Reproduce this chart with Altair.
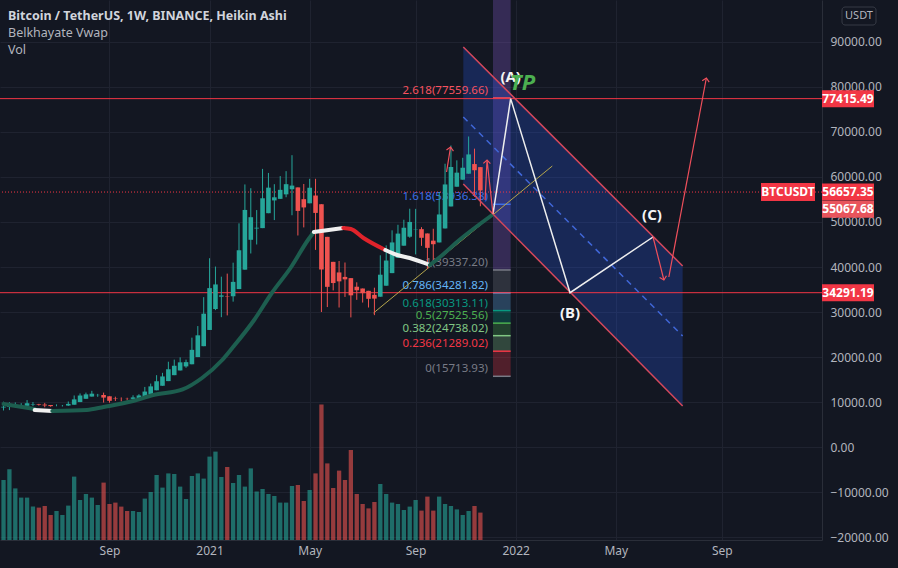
import altair as alt
import numpy as np
import pandas as pd

# ---------------- data ----------------
CANDLE_START = "2020-05-04"   # weekly Heikin Ashi candles, BINANCE BTCUSDT
ha_open = [8800, 8875, 9010, 9150, 9160, 9442, 9495, 9424, 9329, 9206,
           9207, 9211, 9396, 9988, 10714, 11207, 11529, 11553, 11267, 10763,
           10715, 10710, 10695, 10857, 11155, 11738, 12604, 13607, 14644, 15962,
           17007, 17910, 18385, 19986, 22402, 26010, 30659, 33392, 33545, 33498,
           35095, 39408, 46044, 48556, 48640, 51957, 54796, 55143, 56146, 57277,
           57685, 55074, 54156, 55883, 53950, 46698, 41144, 38790, 37799, 37526,
           35615, 35220, 34705, 33817, 33396, 35842, 38640, 42049, 44736, 46731,
           48372, 48411, 47451, 45853, 45458, 48567, 53456, 57840, 59403, 60732,
           62875, 62190]
ha_close = [8950, 9145, 9290, 9170, 9723, 9548, 9353, 9233, 9083, 9208,
            9215, 9580, 10580, 11440, 11700, 11850, 11578, 10981, 10258, 10668,
            10705, 10680, 11018, 11453, 12320, 13470, 14610, 15680, 17280, 18053,
            18813, 18860, 21588, 24818, 29618, 35308, 36125, 33698, 33450, 36693,
            43720, 52680, 51068, 48725, 55273, 57635, 55490, 57148, 58408, 58093,
            52463, 53238, 57610, 52018, 39445, 35590, 36435, 36808, 37253, 33703,
            34825, 34190, 32928, 32975, 38288, 41438, 45458, 47423, 48725, 50013,
            48450, 46490, 44255, 45063, 51675, 58345, 62223, 60965, 62060, 65018,
            61505, 57019]
ha_high = [10067, 9950, 9900, 9740, 10430, 9990, 9590, 9800, 9329, 9470,
           9340, 10110, 11450, 11900, 12090, 12480, 11800, 12090, 11267, 11180,
           11020, 10950, 11490, 11730, 13350, 14100, 15960, 16480, 18950, 19420,
           19920, 19420, 24300, 26870, 33300, 41950, 40100, 37850, 38530, 40960,
           49700, 58350, 57500, 52650, 61800, 60900, 58400, 60200, 61300, 64850,
           57685, 58450, 59600, 59600, 53950, 46698, 41144, 41330, 41000, 37526,
           36600, 35220, 34705, 35400, 42600, 44800, 48150, 49380, 50500, 52950,
           52920, 48850, 47451, 48500, 56600, 62950, 67000, 63700, 64270, 69000,
           66300, 62190]
ha_low = [8117, 8200, 8800, 8630, 9160, 9120, 9200, 8830, 8940, 9050,
          9000, 9120, 9396, 9988, 10714, 11207, 11150, 9875, 9850, 10230,
          10140, 10370, 10530, 10857, 11155, 11738, 12604, 13607, 14644, 15962,
          17007, 17600, 18385, 19986, 22402, 26010, 30420, 28850, 29240, 32300,
          35095, 39408, 43000, 45000, 48640, 51957, 50430, 55143, 55500, 51500,
          47000, 48800, 54156, 43800, 30000, 31100, 34800, 31000, 33350, 28800,
          32700, 32100, 31000, 29300, 33396, 35842, 38640, 42049, 44736, 46500,
          42800, 44700, 39600, 40750, 45458, 48567, 53456, 57840, 59400, 60732,
          55600, 53500]
volume_k = [300, 354, 258, 212, 212, 167, 162, 170, 125, 145,
            125, 172, 317, 200, 230, 212, 175, 287, 180, 187,
            167, 145, 145, 140, 207, 240, 325, 262, 333, 330,
            267, 205, 320, 333, 307, 417, 442, 315, 365, 285,
            325, 267, 358, 242, 255, 230, 220, 187, 187, 270,
            275, 195, 250, 333, 678, 383, 260, 347, 300, 450,
            230, 180, 158, 190, 280, 230, 187, 180, 150, 167,
            200, 147, 217, 147, 217, 180, 170, 153, 125, 145,
            170, 137]

# Belkhayate VWAP path (segment id, date, price)
vwap_seg = [0, 0,
            1, 1,
            2, 2, 2, 2, 2, 2, 2, 2, 2, 2, 2, 2, 2, 2,
            3, 3,
            4, 4, 4, 4,
            5, 5, 5, 5,
            6, 6, 6, 6]
vwap_date = ["2020-05-04", "2020-06-10",
             "2020-06-10", "2020-07-01",
             "2020-07-01", "2020-08-11", "2020-08-31", "2020-10-05", "2020-10-29", "2020-12-03",
             "2020-12-26", "2021-01-19", "2021-01-31", "2021-02-26", "2021-03-19", "2021-04-11",
             "2021-05-01", "2021-05-08",
             "2021-05-08", "2021-06-12",
             "2021-06-12", "2021-06-21", "2021-07-06", "2021-08-01",
             "2021-08-01", "2021-08-15", "2021-08-30", "2021-09-23",
             "2021-09-23", "2021-10-05", "2021-10-28", "2021-12-06"]
vwap_price = [9556, 8444,
              8222, 8000,
              8000, 8222, 8889, 10222, 11556, 12800, 15333, 19333, 22000, 28222, 34222, 40000,
              46000, 47778,
              47778, 48667,
              48667, 48444, 46444, 43778,
              43778, 42667, 42000, 40444,
              40444, 42222, 46000, 51556]
vwap_seg_kind = ["up", "flat", "up", "flat", "down", "flat", "up"]

# Fibonacci retracement
fib_ratio = ["2.618", "1.618", "1", "0.786", "0.618", "0.5", "0.382", "0.236", "0"]
fib_price = [77559.66, 53936.38, 39337.20, 34281.82, 30313.11, 27525.56, 24738.02, 21289.02, 15713.93]
fib_start, fib_end, fib_text_at = "2021-12-07", "2021-12-28", "2021-12-01"

# Horizontal levels / price scale labels
levels = [77415.49, 34291.19]
last_price = 56657.35
other_price = 55067.68

# Descending channel
ch_date = ["2021-11-01T16:00", "2022-07-20T12:00"]
ch_upper = [88889, 40222]
ch_mid = [73333, 24667]
ch_lower = [58444, 9111]

# ABC wave
abc_date = ["2021-12-07", "2021-12-28", "2022-03-08T14:00", "2022-06-15T07:00"]
abc_price = [51778, 77415, 34291, 46667]
abc_label = ["(A)", "(B)", "(C)"]
abc_label_date = ["2021-12-28", "2022-03-08T14:00", "2022-06-14T02:00"]
abc_label_price = [82222, 29778, 51556]
tp_date, tp_price = "2022-01-11T05:00", 80889

# Trend line
trend_date = ["2021-07-17T22:00", "2022-02-15T12:00"]
trend_price = [29778, 62444]

# Red arrows
arrow_id = [0, 0, 1, 1, 1, 2, 2, 3, 3]
arrow_date = ["2021-10-12T19:00", "2021-10-17T12:00",
              "2021-11-27T14:00", "2021-11-29T22:00", "2021-12-07",
              "2022-06-15T07:00", "2022-06-28T05:00",
              "2022-07-04T02:00", "2022-08-17T17:00"]
arrow_price = [61111, 66667,
               54889, 63778, 51778,
               46667, 37111,
               37778, 82000]
head_date = ["2021-10-17T12:00", "2021-11-29T22:00", "2022-06-28T05:00", "2022-08-17T17:00"]
head_price = [66667, 63778, 37111, 82000]
head_angle = [9, 3, 166, 11]

x_tick_dates = [(2020, 9, 7), (2021, 1, 4), (2021, 5, 3), (2021, 9, 6),
                (2022, 1, 3), (2022, 5, 2), (2022, 9, 5)]
price_ticks = list(range(-20000, 90001, 10000))

# ---------------- styles ----------------
BG = "#131722"
FONT = "Noto Sans"
TXT = "#b2b5be"
GRID = "#1f2330"
UP_C, DOWN_C = "#26a69a", "#ef5350"
RED = "#f23645"
fib_text_colors = ["#f7525f", "#3d6fe8", "#787b86", "#64b5f6", "#089981", "#4caf50", "#81c784", "#f23645", "#787b86"]
Y_MIN, Y_MAX = -20666.67, 99333.33


def utc(s):
    if s.endswith("Z"):
        return s
    return s + "Z" if "T" in s else s + "T00:00:00Z"


dates = pd.date_range(CANDLE_START, periods=len(ha_open), freq="7D").strftime("%Y-%m-%dT%H:%M:%SZ")
candles = pd.DataFrame({"date": dates, "open": ha_open, "close": ha_close,
                        "high": ha_high, "low": ha_low, "volume": volume_k})
candles["dir"] = np.where(candles["close"] >= candles["open"], "up", "down")

vwap = pd.DataFrame({"seg": vwap_seg, "date": [utc(d) for d in vwap_date], "price": vwap_price})
vwap["kind"] = [vwap_seg_kind[s] for s in vwap_seg]

fib = pd.DataFrame({"ratio": fib_ratio, "price": fib_price})
fib["label"] = [f"{r}({p:.2f})" for r, p in zip(fib_ratio, fib_price)]
fib["x0"], fib["x1"], fib["xt"] = utc(fib_start), utc(fib_end), utc(fib_text_at)
boxes = pd.DataFrame({"ratio": fib_ratio[2:-1], "top": fib_price[2:-1], "bottom": fib_price[3:]})
boxes["x0"], boxes["x1"] = utc(fib_start), utc(fib_end)
band = pd.DataFrame({"x0": [utc(fib_start)], "x1": [utc(fib_end)], "top": [Y_MAX], "bottom": [fib_price[2]]})

channel = pd.DataFrame({"date": [utc(d) for d in ch_date], "upper": ch_upper, "mid": ch_mid, "lower": ch_lower})
abc = pd.DataFrame({"date": [utc(d) for d in abc_date], "price": abc_price})
abc_lab = pd.DataFrame({"date": [utc(d) for d in abc_label_date], "price": abc_label_price, "t": abc_label})
tp = pd.DataFrame({"date": [utc(tp_date)], "price": [tp_price], "t": ["TP"]})
trend = pd.DataFrame({"date": [utc(d) for d in trend_date], "price": trend_price})
arrows = pd.DataFrame({"id": arrow_id, "date": [utc(d) for d in arrow_date], "price": arrow_price})
arrows["order"] = range(len(arrows))
heads = pd.DataFrame({"date": [utc(d) for d in head_date], "price": head_price, "angle": head_angle})
lv = pd.DataFrame({"price": levels})
axis_lab = pd.DataFrame({"price": levels + [last_price], "t": [f"{p:.2f}" for p in levels + [last_price]]})
other_lab = pd.DataFrame({"price": [other_price], "t": [f"{other_price:.2f}"]})
last_df = pd.DataFrame({"price": [last_price], "t": ["BTCUSDT"]})

XS = alt.Scale(type="utc", domain=[alt.DateTime(year=2020, month=5, date=5, hours=18, utc=True),
                                   alt.DateTime(year=2022, month=12, date=27, hours=6, utc=True)])

x_axis = alt.Axis(values=[alt.DateTime(year=y, month=m, date=d, utc=True) for y, m, d in x_tick_dates],
                  labelExpr="utcmonth(datum.value) == 0 ? utcFormat(datum.value, '%Y') : utcFormat(datum.value, '%b')",
                  grid=True, gridColor=GRID, domain=True, domainColor="#2a2e39", ticks=False,
                  labelColor=TXT, labelFont=FONT, labelFontSize=12, labelPadding=5,
                  labelFlush=False, labelOverlap=False)
y_axis = alt.Axis(orient="right", values=price_ticks, format=".2f", grid=True, gridColor=GRID,
                  domain=True, domainColor="#2a2e39", ticks=False, labelColor=TXT, labelFont=FONT,
                  labelFontSize=12, labelPadding=8, labelOverlap=False, labelFlush=False)


def YS():
    return alt.Scale(domain=[Y_MIN, Y_MAX], nice=False, zero=False)


def X(f):
    # every layer carries the same x axis definition so that the shared axis merges cleanly
    return alt.X(f"{f}:T", scale=XS, axis=x_axis, title=None)


def Y(f):
    return alt.Y(f"{f}:Q", scale=YS(), axis=None, title=None)


dir_color = alt.Color("dir:N", scale=alt.Scale(domain=["up", "down"], range=[UP_C, DOWN_C]), legend=None)

# ---------------- layers ----------------
vol = alt.Chart(candles).mark_bar(size=4.3, opacity=0.6).encode(
    x=X("date"),
    y=alt.Y("volume:Q", scale=alt.Scale(domain=[0, 2700], nice=False), axis=None, title=None),
    color=dir_color)

band_l = alt.Chart(band).mark_rect(color="#7e57c2", opacity=0.32).encode(
    x=X("x0"), x2="x1:T", y=Y("top"), y2="bottom:Q")

ch_area = alt.Chart(channel).mark_area(color="#2962ff", opacity=0.24).encode(
    x=X("date"), y=Y("upper"), y2="lower:Q")

fib_color = alt.Color("ratio:N", scale=alt.Scale(domain=fib_ratio, range=fib_text_colors), legend=None)

box_l = alt.Chart(boxes).mark_rect(opacity=0.28).encode(
    x=X("x0"), x2="x1:T", y=Y("top"), y2="bottom:Q", color=fib_color)

fib_lines = alt.Chart(fib).mark_rule(strokeWidth=1.5).encode(
    x=X("x0"), x2="x1:T", y=Y("price"), color=fib_color)

fib_text = alt.Chart(fib).mark_text(align="right", baseline="middle", dy=-7, font=FONT, fontSize=11.5).encode(
    x=X("xt"), y=Y("price"), text="label:N", color=fib_color)

hlines = alt.Chart(lv).mark_rule(color=RED, strokeWidth=1).encode(y=Y("price"))
dotted = alt.Chart(last_df).mark_rule(color=RED, strokeWidth=1, strokeDash=[1, 2]).encode(y=Y("price"))

trend_l = alt.Chart(trend).mark_line(color="#b5a64c", strokeWidth=1).encode(x=X("date"), y=Y("price"))

wicks = alt.Chart(candles).mark_rule(strokeWidth=1).encode(
    x=X("date"),
    y=alt.Y("low:Q", scale=YS(), axis=y_axis, title=None),
    y2="high:Q", color=dir_color)
bodies = alt.Chart(candles).mark_bar(size=4.6).encode(
    x=X("date"), y=Y("open"), y2="close:Q", color=dir_color)

vwap_l = alt.Chart(vwap).mark_line(strokeWidth=4, strokeCap="round", interpolate="monotone").encode(
    x=X("date"), y=Y("price"), detail="seg:N",
    color=alt.Color("kind:N", scale=alt.Scale(domain=["up", "flat", "down"],
                                              range=["#1d5e4f", "#f0f0f0", "#e0232b"]), legend=None))

ch_up = alt.Chart(channel).mark_line(color="#d5485c", strokeWidth=1.5).encode(x=X("date"), y=Y("upper"))
ch_lo = alt.Chart(channel).mark_line(color="#d5485c", strokeWidth=1.5).encode(x=X("date"), y=Y("lower"))
ch_mi = alt.Chart(channel).mark_line(color="#4067d8", strokeWidth=1.5, strokeDash=[6, 5]).encode(
    x=X("date"), y=Y("mid"))

abc_l = alt.Chart(abc).mark_line(color="#eeeeee", strokeWidth=1.5).encode(x=X("date"), y=Y("price"))

arrow_l = alt.Chart(arrows).mark_line(color="#f0505c", strokeWidth=1.2).encode(
    x=X("date"), y=Y("price"), detail="id:N", order="order:Q")
head_l = alt.Chart(heads).mark_point(shape="M-1,1L0,0L1,1", filled=False, size=50, color="#f0505c",
                                     strokeWidth=1.2, opacity=1).encode(
    x=X("date"), y=Y("price"), angle=alt.Angle("angle:Q", scale=None))

abc_text = alt.Chart(abc_lab).mark_text(font=FONT, fontSize=15, fontWeight="bold", color="#f5f5f5",
                                        baseline="middle").encode(x=X("date"), y=Y("price"), text="t:N")
tp_text = alt.Chart(tp).mark_text(font=FONT, fontSize=22, fontWeight="bold", fontStyle="italic",
                                  color="#4caf50", baseline="middle").encode(x=X("date"), y=Y("price"), text="t:N")

lab_box = alt.Chart(axis_lab).mark_tick(orient="horizontal", size=52, thickness=17, color=RED, opacity=1).encode(
    x=alt.value(848), y=Y("price"))
lab_txt = alt.Chart(axis_lab).mark_text(font=FONT, fontSize=12, fontWeight="bold", color="white").encode(
    x=alt.value(848), y=Y("price"), text="t:N")
oth_box = alt.Chart(other_lab).mark_tick(orient="horizontal", size=52, thickness=17, color="#e8545c",
                                          opacity=1, yOffset=10).encode(x=alt.value(848), y=Y("price"))
oth_txt = alt.Chart(other_lab).mark_text(font=FONT, fontSize=12, fontWeight="bold", color="white",
                                         dy=10).encode(x=alt.value(848), y=Y("price"), text="t:N")
sym_box = alt.Chart(last_df).mark_tick(orient="horizontal", size=54, thickness=18, color=RED, opacity=1).encode(
    x=alt.value(788), y=Y("price"))
sym_txt = alt.Chart(last_df).mark_text(font=FONT, fontSize=12, fontWeight="bold", color="white").encode(
    x=alt.value(788), y=Y("price"), text="t:N")

usdt_box = alt.Chart(pd.DataFrame({"t": ["USDT"]})).mark_rect(
    fill="transparent", stroke="#363a45", strokeWidth=1, cornerRadius=3).encode(
    x=alt.value(842), x2=alt.value(876), y=alt.value(7), y2=alt.value(25))
usdt_txt = alt.Chart(pd.DataFrame({"t": ["USDT"]})).mark_text(font=FONT, fontSize=11, color=TXT).encode(
    x=alt.value(859), y=alt.value(16), text="t:N")

head_lines = [("Bitcoin / TetherUS, 1W, BINANCE, Heikin Ashi", 16, "bold", "#d1d4dc"),
              ("Belkhayate Vwap", 33, "normal", TXT),
              ("Vol", 50, "normal", TXT)]
head_layers = [alt.Chart(pd.DataFrame({"t": [t]})).mark_text(
    font=FONT, fontSize=12.5, fontWeight=w, color=c, align="left", baseline="middle").encode(
    x=alt.value(8), y=alt.value(yy), text="t:N") for t, yy, w, c in head_lines]

chart = alt.layer(
    vol, band_l, ch_area, box_l, fib_lines, fib_text, hlines, dotted, trend_l,
    wicks, bodies, vwap_l, ch_up, ch_lo, ch_mi, abc_l, arrow_l, head_l,
    abc_text, tp_text, lab_box, lab_txt, oth_box, oth_txt, sym_box, sym_txt,
    usdt_box, usdt_txt, *head_layers
).resolve_scale(y="independent", color="independent").properties(
    width=822, height=540,
    autosize=alt.AutoSizeParams(type="none"),
    padding={"left": 0, "top": 0, "right": 76, "bottom": 28},
    background=BG,
).configure_view(stroke=None)

chart.save("out.html", embed_options={"renderer": "svg", "actions": False})
